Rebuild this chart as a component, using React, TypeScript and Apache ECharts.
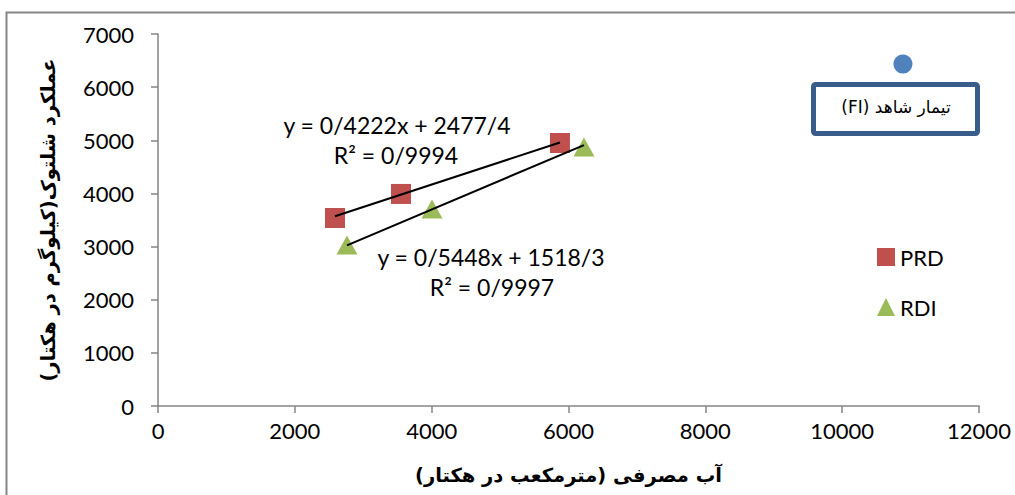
import React, { useEffect, useRef } from "react";
import * as echarts from "echarts";

const prdX = [2587, 3552, 5875];
const prdY = [3538, 3990, 4949];
const rdiX = [2762, 4005, 6226];
const rdiY = [3030, 3707, 4874];
const fiX = [10888];
const fiY = [6436];
const prdTrend = { slope: 0.4222, intercept: 2477.4 };
const rdiTrend = { slope: 0.5448, intercept: 1518.3 };
const prdEqText = ["y = 0/4222x + 2477/4", "R² = 0/9994"];
const rdiEqText = ["y = 0/5448x + 1518/3", "R² = 0/9997"];
const fiLabel = "تیمار شاهد (FI)";
const xTitle = "آب مصرفی (مترمکعب در هکتار)";
const yTitle = "عملکرد شلتوک(کیلوگرم در هکتار)";

const rtl = (s: string) => "\u202B" + s + "\u202C";

const trendPts = (xs: number[], t: { slope: number; intercept: number }) => {
  const lo = Math.min(...xs);
  const hi = Math.max(...xs);
  return [
    [lo, t.slope * lo + t.intercept],
    [hi, t.slope * hi + t.intercept],
  ];
};

const FONT = "Lato, 'Open Sans', 'DejaVu Sans', sans-serif";
const FA = "'DejaVu Sans', sans-serif";

export default function App() {
  const ref = useRef<HTMLDivElement>(null);
  useEffect(() => {
    if (!ref.current) return;
    const chart = echarts.init(ref.current, undefined, { renderer: "svg" });
    chart.setOption({
      animation: false,
      backgroundColor: "#fff",
      grid: { left: 158, right: 36, top: 34, bottom: 89 },
      xAxis: {
        type: "value",
        min: 0,
        max: 12000,
        interval: 2000,
        name: rtl(xTitle),
        nameLocation: "middle",
        nameGap: 59,
        nameTextStyle: { fontFamily: FA, fontWeight: "bold", fontSize: 19.5, color: "#000" },
        axisLine: { lineStyle: { color: "#868686", width: 1.5 } },
        axisTick: { show: true, length: 7, lineStyle: { color: "#868686", width: 1.5 } },
        axisLabel: { fontFamily: FONT, fontSize: 22, color: "#000", margin: 13, formatter: (v: number) => String(v) },
        splitLine: { show: false },
      },
      yAxis: {
        type: "value",
        min: 0,
        max: 7000,
        interval: 1000,
        name: rtl(yTitle),
        nameLocation: "middle",
        nameGap: 100,
        nameRotate: 90,
        nameTextStyle: { fontFamily: FA, fontWeight: "bold", fontSize: 19.5, color: "#000" },
        axisLine: { show: true, lineStyle: { color: "#868686", width: 1.5 } },
        axisTick: { show: true, length: 7, lineStyle: { color: "#868686", width: 1.5 } },
        axisLabel: { fontFamily: FONT, fontSize: 22, color: "#000", margin: 24, formatter: (v: number) => String(v) },
        splitLine: { show: false },
      },
      legend: {
        orient: "vertical",
        left: 872,
        top: 241,
        itemGap: 28,
        itemWidth: 18,
        itemHeight: 18,
        data: ["PRD", "RDI"],
        textStyle: { fontFamily: FONT, fontSize: 22, color: "#000" },
      },
      series: [
        {
          type: "line",
          name: "PRD trend",
          data: trendPts(prdX, prdTrend),
          symbol: "none",
          lineStyle: { color: "#000", width: 2 },
          z: 3,
        },
        {
          type: "line",
          name: "RDI trend",
          data: trendPts(rdiX, rdiTrend),
          symbol: "none",
          lineStyle: { color: "#000", width: 2 },
          z: 3,
        },
        {
          type: "scatter",
          name: "PRD",
          data: prdX.map((x, i) => [x, prdY[i]]),
          symbol: "rect",
          symbolSize: 20,
          itemStyle: { color: "#C0504D", opacity: 1 },
          z: 2,
        },
        {
          type: "scatter",
          name: "RDI",
          data: rdiX.map((x, i) => [x, rdiY[i]]),
          symbol: "triangle",
          symbolSize: [21, 19],
          itemStyle: { color: "#9BBB59", opacity: 1 },
          z: 2,
        },
        {
          type: "scatter",
          name: "FI",
          data: fiX.map((x, i) => [x, fiY[i]]),
          symbol: "circle",
          symbolSize: 19,
          itemStyle: { color: "#4F81BD", opacity: 1 },
          z: 2,
        },
      ],
      graphic: [
        {
          type: "rect",
          left: 4,
          top: 10,
          shape: { width: 1030, height: 500 },
          style: { fill: "none", stroke: "#868686", lineWidth: 2 },
          silent: true,
        },
        {
          type: "rect",
          left: 811,
          top: 82,
          shape: { width: 164, height: 49, r: 2 },
          style: { fill: "#fff", stroke: "#385D8A", lineWidth: 5 },
        },
        {
          type: "text",
          x: 896,
          y: 107,
          style: { text: rtl(fiLabel), fontFamily: FA, fontSize: 17, fill: "#000", align: "center", verticalAlign: "middle" },
        },
        {
          type: "text",
          x: 397,
          y: 125,
          style: { text: prdEqText[0], fontFamily: FONT, fontSize: 23, fill: "#000", align: "center", verticalAlign: "middle" },
        },
        {
          type: "text",
          x: 396,
          y: 155,
          style: { text: prdEqText[1], fontFamily: FONT, fontSize: 23, fill: "#000", align: "center", verticalAlign: "middle" },
        },
        {
          type: "text",
          x: 491,
          y: 257,
          style: { text: rdiEqText[0], fontFamily: FONT, fontSize: 23, fill: "#000", align: "center", verticalAlign: "middle" },
        },
        {
          type: "text",
          x: 492,
          y: 287,
          style: { text: rdiEqText[1], fontFamily: FONT, fontSize: 23, fill: "#000", align: "center", verticalAlign: "middle" },
        },
      ],
    });
    return () => chart.dispose();
  }, []);
  return <div ref={ref} style={{ width: 1015, height: 495, position: "absolute", left: 0, top: 0 }} />;
}
